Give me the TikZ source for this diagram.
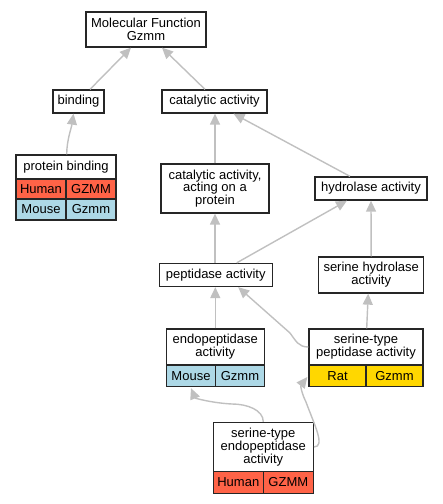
\documentclass[tikz,border=0pt]{standalone}
\usepackage{fontspec}
\setmainfont{Liberation Sans}
\usetikzlibrary{arrows.meta,calc}
\definecolor{human}{HTML}{FF6347}
\definecolor{mouse}{HTML}{ADD8E6}
\definecolor{rat}{HTML}{FFD700}
\definecolor{edgegray}{HTML}{C0C0C0}
\begin{document}
\begin{tikzpicture}[x=1pt,y=-1pt,
  box/.style={draw=black!85, line width=1.3pt, fill=white, inner sep=0pt, align=center,
    font=\fontsize{13}{12.8}\selectfont},
  cell/.style={box, minimum height=21pt},
  edge/.style={draw=edgegray, line width=1.4pt, -{Triangle[length=11pt,width=10pt]}}]
\useasboundingbox (0,0) rectangle (443,504);
% nodes
\node[box, minimum width=120pt, minimum height=35pt] (mf) at (146,29.5) {Molecular Function\\Gzmm};
\node[box, minimum width=51pt, minimum height=23pt] (binding) at (78.5,101.5) {binding};
\node[box, minimum width=105pt, minimum height=23pt] (cat) at (214.5,101.5) {catalytic activity};
\node[box, minimum width=100pt, minimum height=24pt] (pb) at (66,167) {protein binding};
\node[cell, fill=human, minimum width=50pt, minimum height=20pt] (pbh) at (41,189) {Human};
\node[cell, fill=human, minimum width=50pt, minimum height=20pt] (pbhg) at (91,189) {GZMM};
\node[cell, fill=mouse, minimum width=50pt] (pbm) at (41,209.5) {Mouse};
\node[cell, fill=mouse, minimum width=50pt] (pbmg) at (91,209.5) {Gzmm};
\node[box, minimum width=108pt, minimum height=49pt] (catp) at (215,188.5) {catalytic activity,\\acting on a\\protein};
\node[box, minimum width=112pt, minimum height=23pt] (hyd) at (371,188.5) {hydrolase activity};
\node[box, minimum width=113pt, minimum height=23pt] (pep) at (215.7,275) {peptidase activity};
\node[box, minimum width=105pt, minimum height=36pt] (sh) at (371.2,275) {serine hydrolase\\activity};
\node[box, minimum width=98pt, minimum height=36pt] (endo) at (215.3,347) {endopeptidase\\activity};
\node[cell, fill=mouse, minimum width=49pt] (endom) at (191,376) {Mouse};
\node[cell, fill=mouse, minimum width=49pt] (endog) at (240,376) {Gzmm};
\node[box, minimum width=114pt, minimum height=36pt] (stp) at (366,347) {serine-type\\peptidase activity};
\node[cell, fill=rat, minimum width=57pt] (stpr) at (337.5,376) {Rat};
\node[cell, fill=rat, minimum width=57pt] (stpg) at (394.5,376) {Gzmm};
\node[box, minimum width=100pt, minimum height=49pt] (step) at (263.3,447) {serine-type\\endopeptidase\\activity};
\node[cell, fill=human, minimum width=50pt, minimum height=22pt] (steph) at (238.3,482.5) {Human};
\node[cell, fill=human, minimum width=50pt, minimum height=22pt] (stepg) at (288.3,482.5) {GZMM};
% edges
\draw[edge] ($(binding.north)+(11.5,0)$) -- ($(mf.south)+(-15,0)$);
\draw[edge] ($(cat.north)+(-9.5,0)$) -- ($(mf.south)+(16,0)$);
\draw[edge] ($(pb.north)+(0.7,0)$) .. controls +(0,-14) and +(-2,14) .. ($(binding.south)+(-5,0)$);
\draw[edge] ($(catp.north)+(0,0)$) -- ($(cat.south)+(0.5,0)$);
\draw[edge] ($(hyd.north)+(-21,0)$) -- ($(cat.south)+(19,0)$);
\draw[edge] ($(pep.north)+(21,0)$) -- ($(hyd.south)+(-24,0)$);
\draw[edge] (sh.north) -- (hyd.south);
\draw[edge] ($(pep.north)+(-0.7,0)$) -- (catp.south);
\draw[edge] (endo.north) -- ($(pep.south)+(-0.4,0)$);
\draw[edge] (stp.west) .. controls +(-10,0) and +(6,8) .. (290,333) -- ($(pep.south)+(22.5,0)$);
\draw[edge] ($(stp.north)+(0.7,0)$) -- ($(sh.south)+(-3,0)$);
\draw[edge] (step.north) .. controls +(0,-12) and +(15,0) .. (232,404) .. controls +(-20,-1) and +(4,10) .. ($(endom.south)+(0,1)$);
\draw[edge] (step.east) .. controls +(12,0) and +(8,22) .. (306,402) .. controls +(-4,-8) and +(-7,9) .. ($(stpr.west)+(-1,1)$);
\end{tikzpicture}
\end{document}
